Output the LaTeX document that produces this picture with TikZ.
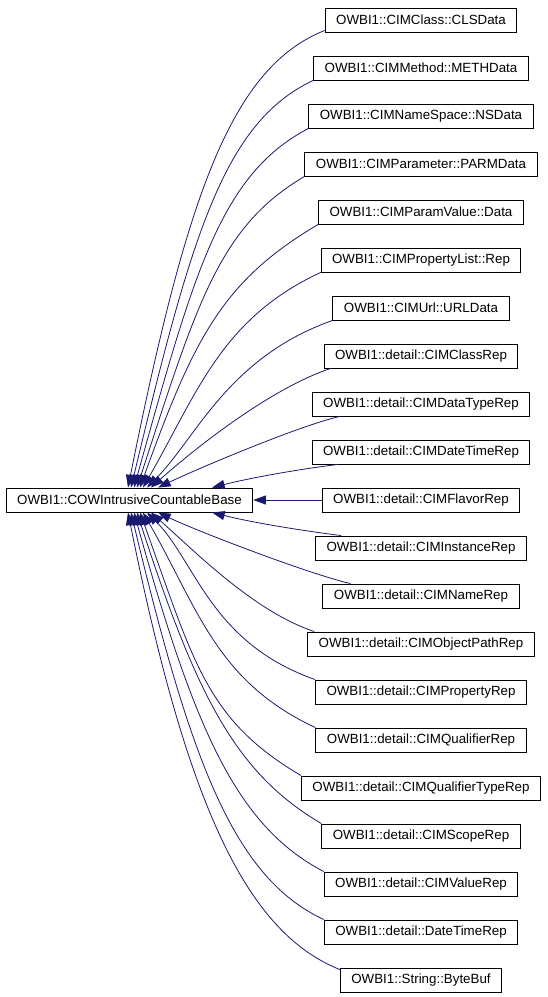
\documentclass[tikz,border=0pt]{standalone}
\usepackage{fontspec}
\setmainfont{Liberation Sans}
\usetikzlibrary{calc,arrows.meta}
\definecolor{edgeblue}{RGB}{25,25,112}
\tikzset{
  cls/.style={draw=black, line width=0.7pt, fill=white, font=\fontsize{10}{12}\selectfont,
    inner xsep=8.25pt, inner ysep=0pt, minimum height=18pt},
  edge/.style={draw=edgeblue, line width=0.6pt, -{Triangle[length=9.5pt,width=6.75pt]}}
}
\begin{document}
\begin{tikzpicture}[x=0.75pt,y=-0.75pt]
\useasboundingbox (0,0) rectangle (547,997);
\node[cls] (base) at (129.5,500) {OWBI1::COWIntrusiveCountableBase};
\foreach \k/\txt in {
 1/OWBI1::CIMClass::CLSData,
 2/OWBI1::CIMMethod::METHData,
 3/OWBI1::CIMNameSpace::NSData,
 4/OWBI1::CIMParameter::PARMData,
 5/OWBI1::CIMParamValue::Data,
 6/OWBI1::CIMPropertyList::Rep,
 7/OWBI1::CIMUrl::URLData,
 8/OWBI1::detail::CIMClassRep,
 9/OWBI1::detail::CIMDataTypeRep,
 10/OWBI1::detail::CIMDateTimeRep,
 11/OWBI1::detail::CIMFlavorRep,
 12/OWBI1::detail::CIMInstanceRep,
 13/OWBI1::detail::CIMNameRep,
 14/OWBI1::detail::CIMObjectPathRep,
 15/OWBI1::detail::CIMPropertyRep,
 16/OWBI1::detail::CIMQualifierRep,
 17/OWBI1::detail::CIMQualifierTypeRep,
 18/OWBI1::detail::CIMScopeRep,
 19/OWBI1::detail::CIMValueRep,
 20/OWBI1::detail::DateTimeRep,
 21/OWBI1::String::ByteBuf}{
  \node[cls] (r\k) at (421,{20+48*(\k-1)}) {\txt};
}
\draw[edge] (r11.west) -- (base.east);
\foreach \k/\sx/\sy/\ax/\ay/\bx/\by/\t in {
 1/0/-2/-93/37/59/-294/-1.5,
 2/0/0/-90/42/60/-250/1.5,
 3/0/0/-88/46/60/-215/4.5,
 4/0/0/-85/50/60/-185/7.5,
 5/0/0/-95/56/54/-150/10.5,
 6/0/0/-99/46/55/-96/13.5,
 7/0/0/-105/37/49/-49/17.5,
 8/7/0/-60/20/45/-40/21.5,
 9/28/0/-40/9/40/-19/28.5,
 10/26/0/-40/5/40/-10/82.5}{
  \draw[edge] ($(r\k.south west)+(\sx,\sy)$) .. controls +(\ax,\ay) and +(\bx,\by) .. ($(base.north)+(\t,0)$);
  \pgfmathtruncatemacro\m{22-\k}
  \pgfmathsetmacro\nsy{-1*(\sy)}
  \pgfmathsetmacro\nay{-1*(\ay)}
  \pgfmathsetmacro\nby{-1*(\by)}
  \draw[edge] ($(r\m.north west)+(\sx,\nsy)$) .. controls +(\ax,\nay) and +(\bx,\nby) .. ($(base.south)+(\t,0)$);
}
\end{tikzpicture}
\end{document}
